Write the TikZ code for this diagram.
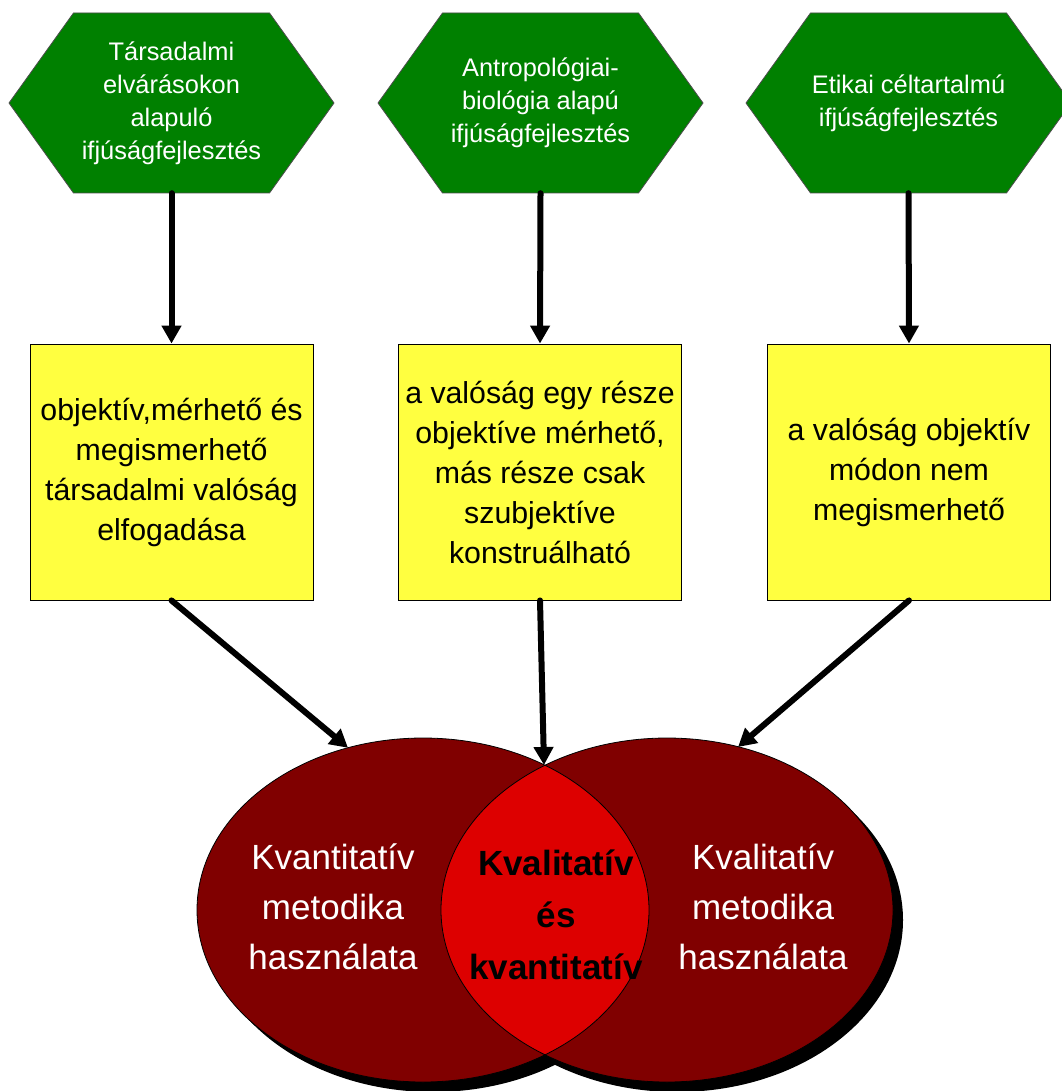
\documentclass[tikz,border=0pt]{standalone}
\usepackage{fontspec}
\setmainfont{Liberation Sans}
\usetikzlibrary{arrows.meta,backgrounds}
\definecolor{hexgreen}{RGB}{0,128,0}
\definecolor{boxyellow}{RGB}{255,255,64}
\definecolor{darkred}{RGB}{128,0,0}
\definecolor{lensred}{RGB}{221,0,0}
\begin{document}
\begin{tikzpicture}[x=1pt,y=-1pt,
  hextext/.style={text=white, align=center, font=\fontsize{25.4}{33}\selectfont, minimum width=196pt, minimum height=180pt, inner sep=0pt},
  hexshape/.style={fill=hexgreen, draw=black!70, line width=0.8pt},
  boxnode/.style={fill=boxyellow, draw=black, line width=0.9pt, minimum width=283pt, minimum height=256pt, inner sep=0pt, align=center, font=\fontsize{30.3}{40}\selectfont},
  arr/.style={line width=6pt, line cap=round, -{Triangle[width=19pt,length=18pt]}},
  shadowfill/.style={fill=black},
  ellfill/.style={fill=darkred},
  ellline/.style={draw=black, line width=0.8pt},
  elltext/.style={text=white, align=center, font=\fontsize{35}{50}\selectfont},
  lenstext/.style={text=black, align=center, font=\bfseries\fontsize{35}{52}\selectfont},
]
\useasboundingbox (0,0) rectangle (1061,1091);

% hexagons (text nodes, shapes on background)
\node[hextext] (h1) at (171.5,103) {Társadalmi\\elvárásokon\\alapuló\\ifjúságfejlesztés};
\node[hextext] (h2) at (540.5,103) {Antropológiai-\\biológia alapú\\ifjúságfejlesztés};
\node[hextext] (h3) at (908.5,103) {Etikai céltartalmú\\ifjúságfejlesztés};
\begin{scope}[on background layer]
\foreach \h in {h1,h2,h3}
  \path[hexshape] (\h.center) +(-162.5,0) -- +(-98,-90) -- +(98,-90) -- +(162.5,0) -- +(98,90) -- +(-98,90) -- cycle;
\end{scope}

% yellow boxes
\node[boxnode] (b1) at (171.5,472) {objektív,mérhető és\\megismerhető\\társadalmi valóság\\elfogadása};
\node[boxnode] (b2) at (540,472) {a valóság egy része\\objektíve mérhető,\\más része csak\\szubjektíve\\konstruálható};
\node[boxnode] (b3) at (909,472) {a valóság objektív\\módon nem\\megismerhető};

% ellipses
\coordinate (Lc) at (423,910);
\coordinate (Rc) at (667,910);
\fill[shadowfill] ([shift={(10,10)}]Lc) ellipse [x radius=226pt, y radius=172pt];
\fill[shadowfill] ([shift={(10,10)}]Rc) ellipse [x radius=226pt, y radius=172pt];
\fill[ellfill] (Lc) ellipse [x radius=226pt, y radius=172pt];
\fill[ellfill] (Rc) ellipse [x radius=226pt, y radius=172pt];
\begin{scope}
  \clip (Lc) ellipse [x radius=226pt, y radius=172pt];
  \fill[lensred] (Rc) ellipse [x radius=226pt, y radius=172pt];
\end{scope}
\path[ellline] (Lc) ellipse [x radius=226pt, y radius=172pt];
\path[ellline] (Rc) ellipse [x radius=226pt, y radius=172pt];

\coordinate (tipL) at (348,747.8);
\coordinate (tipM) at (544,765);
\coordinate (tipR) at (738,747);

% ellipse texts
\node[elltext] (t1) at (333,907) {Kvantitatív\\metodika\\használata};
\node[elltext] (t3) at (763,907) {Kvalitatív\\metodika\\használata};
\node[lenstext] (t2) at (556,915) {Kvalitatív\\és\\kvantitatív};

% arrows
\draw[arr] (h1.south) -- (b1.north);
\draw[arr] (h2.south) -- (b2.north);
\draw[arr] (h3.south) -- (b3.north);
\draw[arr] (b1.south) -- (tipL);
\draw[arr] (b2.south) -- (tipM);
\draw[arr] (b3.south) -- (tipR);
\end{tikzpicture}
\end{document}
